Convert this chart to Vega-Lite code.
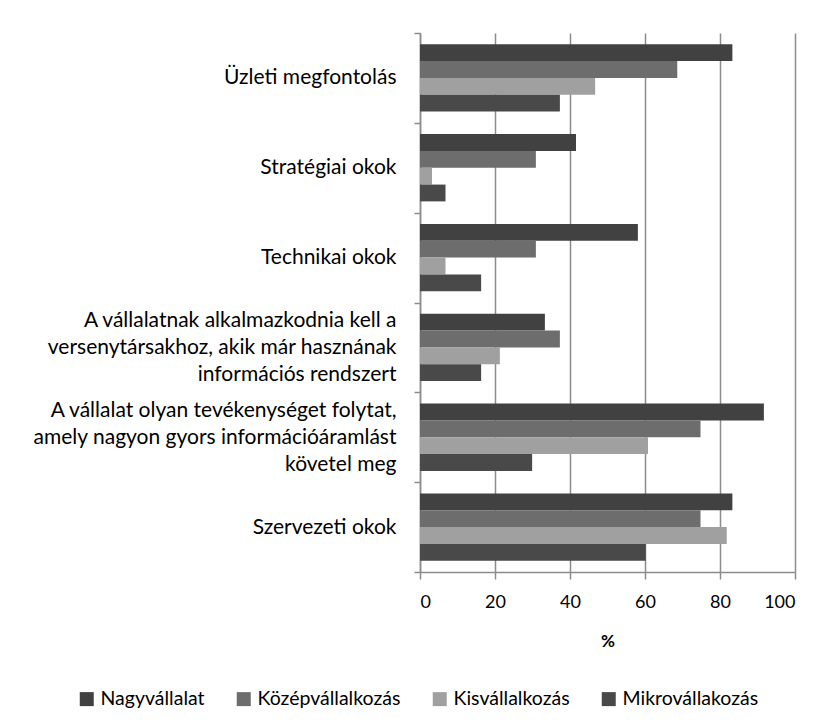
{
  "$schema": "https://vega.github.io/schema/vega-lite/v6.json",
  "autosize": {"type": "none"},
  "width": 375,
  "height": 539,
  "padding": {"left": 420, "top": 33, "right": 32, "bottom": 155},
  "background": "white",
  "config": {
    "font": "Lato",
    "view": {"stroke": null},
    "axis": {"labelFont": "Lato", "titleFont": "Lato", "labelColor": "#000", "titleColor": "#000"}
  },
  "data": {
    "values": [
      {"ok": "Üzleti megfontolás", "meret": "Nagyvállalat", "ertek": 83.3},
      {"ok": "Üzleti megfontolás", "meret": "Középvállalkozás", "ertek": 68.6},
      {"ok": "Üzleti megfontolás", "meret": "Kisvállalkozás", "ertek": 46.7},
      {"ok": "Üzleti megfontolás", "meret": "Mikrovállakozás", "ertek": 37.3},
      {"ok": "Stratégiai okok", "meret": "Nagyvállalat", "ertek": 41.6},
      {"ok": "Stratégiai okok", "meret": "Középvállalkozás", "ertek": 30.9},
      {"ok": "Stratégiai okok", "meret": "Kisvállalkozás", "ertek": 3.2},
      {"ok": "Stratégiai okok", "meret": "Mikrovállakozás", "ertek": 6.8},
      {"ok": "Technikai okok", "meret": "Nagyvállalat", "ertek": 58.1},
      {"ok": "Technikai okok", "meret": "Középvállalkozás", "ertek": 30.9},
      {"ok": "Technikai okok", "meret": "Kisvállalkozás", "ertek": 6.8},
      {"ok": "Technikai okok", "meret": "Mikrovállakozás", "ertek": 16.3},
      {"ok": "A vállalatnak alkalmazkodnia kell a versenytársakhoz, akik már hasznának információs rendszert", "meret": "Nagyvállalat", "ertek": 33.3},
      {"ok": "A vállalatnak alkalmazkodnia kell a versenytársakhoz, akik már hasznának információs rendszert", "meret": "Középvállalkozás", "ertek": 37.3},
      {"ok": "A vállalatnak alkalmazkodnia kell a versenytársakhoz, akik már hasznának információs rendszert", "meret": "Kisvállalkozás", "ertek": 21.3},
      {"ok": "A vállalatnak alkalmazkodnia kell a versenytársakhoz, akik már hasznának információs rendszert", "meret": "Mikrovállakozás", "ertek": 16.3},
      {"ok": "A vállalat olyan tevékenységet folytat, amely nagyon gyors információáramlást követel meg", "meret": "Nagyvállalat", "ertek": 91.7},
      {"ok": "A vállalat olyan tevékenységet folytat, amely nagyon gyors információáramlást követel meg", "meret": "Középvállalkozás", "ertek": 74.8},
      {"ok": "A vállalat olyan tevékenységet folytat, amely nagyon gyors információáramlást követel meg", "meret": "Kisvállalkozás", "ertek": 60.8},
      {"ok": "A vállalat olyan tevékenységet folytat, amely nagyon gyors információáramlást követel meg", "meret": "Mikrovállakozás", "ertek": 29.9},
      {"ok": "Szervezeti okok", "meret": "Nagyvállalat", "ertek": 83.3},
      {"ok": "Szervezeti okok", "meret": "Középvállalkozás", "ertek": 74.8},
      {"ok": "Szervezeti okok", "meret": "Kisvállalkozás", "ertek": 81.8},
      {"ok": "Szervezeti okok", "meret": "Mikrovállakozás", "ertek": 60.2}
    ]
  },
  "mark": {"type": "bar"},
  "encoding": {
    "y": {
      "field": "ok",
      "type": "nominal",
      "sort": null,
      "scale": {"paddingInner": 0, "paddingOuter": 0},
      "axis": {
        "title": null,
        "tickBand": "extent",
        "domainColor": "#8c8c8c",
        "domainWidth": 1.5,
        "tickColor": "#8c8c8c",
        "tickWidth": 1.5,
        "tickSize": 6,
        "labelFontSize": 21,
        "labelLimit": 420,
        "labelLineHeight": 27,
        "labelPadding": 18,
        "labelOffset": -27,
        "labelExpr": "datum.label == 'A vállalatnak alkalmazkodnia kell a versenytársakhoz, akik már hasznának információs rendszert' ? ['A vállalatnak  alkalmazkodnia  kell a', 'versenytársakhoz, akik már hasznának', 'információs rendszert'] : datum.label == 'A vállalat olyan tevékenységet folytat, amely nagyon gyors információáramlást követel meg' ? ['A vállalat  olyan tevékenységet folytat,', 'amely nagyon  gyors információáramlást', 'követel meg'] : ['', datum.label, '']"
      }
    },
    "yOffset": {
      "field": "meret",
      "type": "nominal",
      "sort": ["Nagyvállalat", "Középvállalkozás", "Kisvállalkozás", "Mikrovállakozás"],
      "scale": {"paddingInner": 0, "paddingOuter": 0.67}
    },
    "x": {
      "field": "ertek",
      "type": "quantitative",
      "scale": {"domain": [0, 100], "nice": false},
      "axis": {
        "title": "%",
        "titleFontSize": 17,
        "titleFontWeight": "bold",
        "titlePadding": 22,
        "values": [0, 20, 40, 60, 80, 100],
        "grid": true,
        "gridColor": "#8c8c8c",
        "gridWidth": 1.5,
        "domainColor": "#8c8c8c",
        "domainWidth": 1.5,
        "tickColor": "#8c8c8c",
        "tickWidth": 1.5,
        "tickSize": 7,
        "labelPadding": 14,
        "labelFontSize": 18
      }
    },
    "color": {
      "field": "meret",
      "type": "nominal",
      "sort": ["Nagyvállalat", "Középvállalkozás", "Kisvállalkozás", "Mikrovállakozás"],
      "scale": {"range": ["#414141", "#6d6d6d", "#a0a0a0", "#494949"]},
      "legend": {
        "title": null,
        "orient": "none",
        "direction": "horizontal",
        "legendX": -343,
        "legendY": 656,
        "symbolType": "square",
        "symbolSize": 196,
        "symbolStrokeWidth": 0,
        "labelFontSize": 19.5,
        "labelFont": "Lato",
        "labelColor": "#000",
        "columnPadding": 29,
        "labelOffset": 4
      }
    }
  }
}
